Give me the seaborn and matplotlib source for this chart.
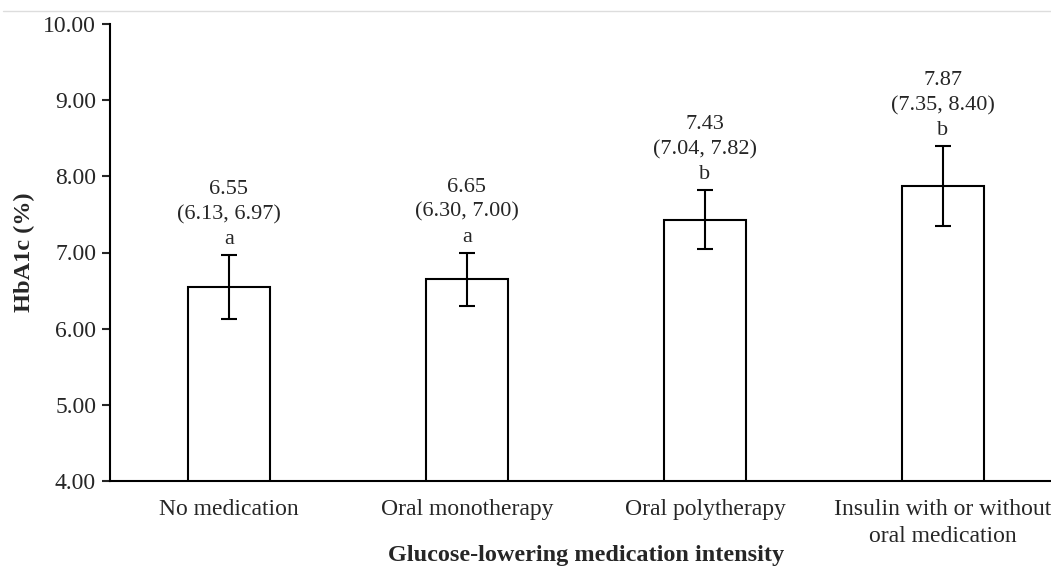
import matplotlib
matplotlib.use("Agg")
import matplotlib.pyplot as plt
import seaborn as sns
import pandas as pd
from matplotlib.lines import Line2D

sns.set_style("white")
plt.rcParams["font.family"] = ["Liberation Serif", "DejaVu Serif"]

# data
groups = ["No medication", "Oral monotherapy", "Oral polytherapy",
          "Insulin with or without\noral medication"]
means = [6.55, 6.65, 7.43, 7.87]
ci_low = [6.13, 6.30, 7.04, 7.35]
ci_high = [6.97, 7.00, 7.82, 8.40]
letters = ["a", "a", "b", "b"]

df = pd.DataFrame({"group": groups, "hba1c": means})

fig = plt.figure(figsize=(10.51, 5.67), dpi=100)
ax = fig.add_axes([110 / 1051, 1 - 481 / 567, 952 / 1051, 457 / 567])

sns.barplot(data=df, x="group", y="hba1c", order=groups, color="white",
            edgecolor="black", linewidth=1.5, width=0.345, ax=ax)

xs = range(len(groups))
yerr = [[m - lo for m, lo in zip(means, ci_low)],
        [hi - m for m, hi in zip(means, ci_high)]]
ax.errorbar(xs, means, yerr=yerr, fmt="none", ecolor="black",
            elinewidth=1.5, capsize=5.5, capthick=1.5)

for x, m, lo, hi, let in zip(xs, means, ci_low, ci_high, letters):
    ax.text(x, hi + 0.075, f"{m:.2f}\n({lo:.2f}, {hi:.2f})\n{let}",
            ha="center", va="bottom", fontsize=16, linespacing=1.42)

ax.set_ylim(4, 10)
ax.set_xlim(-0.5, 3.5)
ax.set_yticks([4, 5, 6, 7, 8, 9, 10])
ax.set_yticklabels([f"{v:.2f}" for v in [4, 5, 6, 7, 8, 9, 10]])
ax.tick_params(axis="y", direction="out", length=6, width=1.5,
               labelsize=17, pad=4, left=True)
ax.tick_params(axis="x", length=0, labelsize=17, pad=13)
for lab in ax.get_xticklabels():
    lab.set_linespacing(1.4)

for side in ["top", "right"]:
    ax.spines[side].set_visible(False)
for side in ["left", "bottom"]:
    ax.spines[side].set_linewidth(1.5)
    ax.spines[side].set_color("black")

ax.set_ylabel("HbA1c (%)", fontsize=17.5, fontweight="bold", labelpad=6)
ax.set_xlabel("Glucose-lowering medication intensity", fontsize=17.5,
              fontweight="bold", labelpad=-2)

# thin grey rule across the top of the image
fig.add_artist(Line2D([0.003, 1], [1 - 11 / 567, 1 - 11 / 567],
                      color="#dddddd", linewidth=1))

fig.savefig("out.png", dpi=100)
